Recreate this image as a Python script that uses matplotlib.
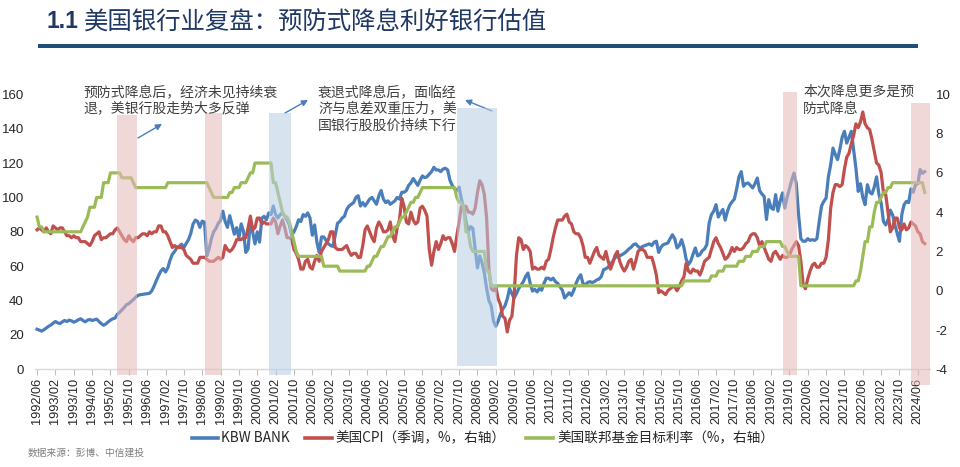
import matplotlib
matplotlib.use('Agg')
import matplotlib.pyplot as plt
import matplotlib.transforms as mtransforms
from matplotlib.patches import Rectangle
from matplotlib.lines import Line2D
import numpy as np
import pandas as pd

plt.rcParams['font.family'] = ['Liberation Sans', 'Noto Sans CJK SC', 'DejaVu Sans']
plt.rcParams['axes.unicode_minus'] = False

# ---------------- data (monthly, 1992/06 - 2024/09) ----------------
start_month = '1992-06'

kbw_bank = (
    [23.3, 22.8, 22.2, 23.0, 24.0, 25.0, 25.8]
    + [26.8, 27.8, 27.0, 26.6, 27.6, 28.4, 27.8, 28.6, 28.2, 27.4, 28.0, 28.8]
    + [29.4, 28.4, 27.6, 28.6, 29.0, 28.4, 28.8, 29.2, 27.8, 26.6, 25.6, 26.4]
    + [27.6, 28.6, 29.4, 29.8, 32.0, 33.2, 34.6, 36.0, 37.6, 38.2, 39.4, 40.6]
    + [42.0, 43.0, 43.4, 43.6, 43.8, 44.0, 44.2, 45.6, 48.4, 51.6, 54.6, 57.2]
    + [58.6, 56.6, 59.0, 63.6, 67.0, 68.6, 70.8, 71.6, 72.8, 70.8, 73.2, 75.4]
    + [79.0, 84.5, 86.8, 86.0, 82.6, 86.2, 85.6, 66.0, 70.0, 76.0, 80.0, 82.0]
    + [85.0, 86.6, 92.0, 86.0, 82.6, 89.4, 84.0, 78.6, 82.4, 76.4, 84.6, 80.2]
    + [68.0, 70.0, 86.0, 80.0, 73.0, 80.0, 74.0, 88.0, 89.0, 87.0, 91.0, 90.0]
    + [95.0, 90.0, 88.0, 90.0, 91.0, 89.0, 87.0, 84.0, 78.0, 80.0, 83.0, 87.0]
    + [86.0, 90.0, 89.0, 91.0, 88.0, 78.0, 84.0, 74.0, 68.0, 77.0, 77.0, 75.0]
    + [73.0, 72.0, 71.5, 78.0, 85.0, 86.0, 88.0, 89.0, 93.0, 95.0, 96.0, 97.0]
    + [100.0, 101.0, 95.0, 97.0, 95.0, 97.0, 99.0, 100.0, 98.0, 96.0, 101.0, 104.0]
    + [99.0, 97.0, 98.0, 96.0, 97.0, 98.0, 100.0, 99.0, 103.0, 103.0, 104.0, 107.0]
    + [108.5, 111.0, 109.0, 107.0, 110.0, 112.5, 111.5, 112.0, 113.6, 115.0, 117.5, 116.0]
    + [116.0, 115.0, 116.5, 117.0, 116.0, 110.0, 107.0, 105.0, 104.0, 106.0, 99.0, 94.0]
    + [86.0, 80.0, 83.0, 82.0, 70.0, 59.0, 66.0, 62.0, 56.0, 47.0, 40.0, 37.0]
    + [28.0, 25.0, 28.0, 32.0, 35.0, 37.0, 41.0, 47.0, 44.0, 41.5, 44.0, 47.0]
    + [49.0, 51.0, 54.0, 56.0, 50.0, 45.5, 46.5, 45.0, 47.0, 46.0, 50.0, 53.0]
    + [53.0, 52.0, 53.0, 51.0, 50.0, 48.0, 46.0, 41.5, 43.0, 44.5, 43.0, 46.0]
    + [50.0, 53.0, 55.0, 50.0, 49.0, 50.5, 51.0, 50.5, 51.0, 52.0, 52.5, 54.0]
    + [58.0, 58.5, 59.5, 61.0, 63.0, 65.0, 65.7, 66.0, 66.7, 67.5, 68.6, 70.0]
    + [71.0, 72.5, 73.0, 71.5, 70.5, 71.5, 72.0, 72.5, 73.0, 72.0, 74.0, 74.5]
    + [68.0, 71.0, 72.5, 73.0, 73.5, 76.0, 78.3, 76.0, 70.6, 72.0, 75.4, 71.0]
    + [64.0, 60.9, 63.0, 67.0, 70.6, 66.0, 66.7, 69.0, 70.0, 72.5, 85.0, 90.0]
    + [92.0, 95.8, 88.6, 91.0, 93.0, 86.8, 92.0, 95.5, 97.5, 99.0, 105.0, 112.0]
    + [115.0, 106.5, 108.0, 108.4, 107.0, 105.5, 108.0, 111.3, 104.0, 102.0, 100.6, 87.2]
    + [98.7, 94.0, 93.0, 101.6, 92.0, 98.0, 102.6, 93.8, 100.0, 105.0, 110.0, 114.2]
    + [108.0, 90.0, 76.0, 74.5, 74.5, 76.0, 75.0, 75.4, 75.0, 76.0, 86.0, 95.0]
    + [97.7, 99.6, 112.0, 119.0, 128.7, 125.0, 122.0, 128.0, 135.0, 138.5, 131.6, 135.0]
    + [138.5, 128.0, 117.0, 103.5, 108.0, 100.0, 95.8, 107.4, 103.0, 102.0, 106.0, 112.0]
    + [102.0, 96.8, 86.0, 84.0, 87.0, 92.6, 89.8, 84.0, 79.0, 74.5, 90.0, 95.8]
    + [97.7, 97.0, 105.0, 103.0, 107.4, 108.0, 116.2, 114.0, 115.0]
)

us_cpi = (
    [3.1, 3.2, 3.1, 3.0, 3.2, 3.0, 2.9]
    + [3.3, 3.2, 3.1, 3.2, 3.2, 3.0, 2.8, 2.8, 2.7, 2.8, 2.7, 2.7]
    + [2.5, 2.5, 2.5, 2.4, 2.3, 2.5, 2.8, 2.9, 3.0, 2.6, 2.7, 2.7]
    + [2.8, 2.9, 2.9, 3.1, 3.2, 3.0, 2.8, 2.6, 2.5, 2.8, 2.6, 2.5]
    + [2.7, 2.7, 2.8, 2.9, 2.9, 2.8, 3.0, 2.9, 3.0, 3.0, 3.3, 3.3]
    + [3.0, 3.0, 2.8, 2.5, 2.2, 2.3, 2.2, 2.2, 2.2, 2.1, 1.8, 1.7]
    + [1.6, 1.4, 1.4, 1.4, 1.7, 1.7, 1.7, 1.6, 1.5, 1.5, 1.5, 1.6]
    + [1.7, 1.6, 1.7, 2.3, 2.1, 2.0, 2.1, 2.3, 2.6, 2.6, 2.6, 2.7]
    + [2.7, 3.2, 3.8, 3.1, 3.2, 3.7, 3.7, 3.4, 3.5, 3.4, 3.4, 3.4]
    + [3.7, 3.5, 2.9, 3.3, 3.6, 3.2, 2.7, 2.7, 2.6, 2.1, 1.9, 1.6]
    + [1.1, 1.1, 1.5, 1.6, 1.2, 1.1, 1.5, 1.8, 1.5, 2.0, 2.2, 2.4]
    + [2.6, 3.0, 3.0, 2.2, 2.1, 2.1, 2.1, 2.2, 2.3, 2.0, 1.8, 1.9]
    + [1.9, 1.7, 1.7, 2.3, 3.1, 3.3, 3.0, 2.7, 2.5, 3.2, 3.5, 3.3]
    + [3.0, 3.0, 3.1, 3.5, 2.8, 2.5, 3.2, 3.6, 4.7, 4.3, 3.5, 3.4]
    + [4.0, 3.6, 3.4, 3.5, 4.2, 4.3, 4.1, 3.8, 2.1, 1.3, 2.0, 2.5]
    + [2.1, 2.4, 2.8, 2.6, 2.7, 2.7, 2.4, 2.0, 2.8, 3.5, 4.3, 4.1]
    + [4.3, 4.0, 4.0, 3.9, 4.2, 5.0, 5.6, 5.4, 4.9, 3.7, 1.1, 0.1]
    + [0.0, 0.2, -0.4, -0.7, -1.3, -1.4, -2.1, -1.5, -1.3, -0.2, 1.8, 2.7]
    + [2.6, 2.1, 2.3, 2.2, 2.0, 1.1, 1.2, 1.1, 1.1, 1.2, 1.1, 1.5]
    + [1.6, 2.1, 2.7, 3.2, 3.6, 3.6, 3.6, 3.8, 3.9, 3.5, 3.4, 3.0]
    + [2.9, 2.9, 2.7, 2.3, 1.7, 1.7, 1.4, 1.7, 2.0, 2.2, 1.8, 1.7]
    + [1.6, 2.0, 1.5, 1.1, 1.4, 1.8, 2.0, 1.5, 1.2, 1.0, 1.2, 1.5]
    + [1.6, 1.1, 1.5, 2.0, 2.1, 2.1, 2.0, 1.7, 1.7, 1.7, 1.3, 0.8]
    + [-0.1, 0.0, -0.1, -0.2, 0.0, 0.1, 0.2, 0.2, 0.0, 0.2, 0.5, 0.7]
    + [1.4, 1.0, 0.9, 1.1, 1.0, 1.0, 0.8, 1.1, 1.5, 1.6, 1.7, 2.1]
    + [2.5, 2.7, 2.4, 2.2, 1.9, 1.6, 1.7, 1.9, 2.2, 2.0, 2.2, 2.1]
    + [2.1, 2.2, 2.4, 2.5, 2.8, 2.9, 2.9, 2.7, 2.3, 2.5, 2.2, 1.9]
    + [1.6, 1.5, 1.9, 2.0, 1.8, 1.6, 1.8, 1.7, 1.7, 1.8, 2.1, 2.3]
    + [2.5, 2.3, 1.5, 0.3, 0.1, 0.6, 1.0, 1.3, 1.4, 1.2, 1.2, 1.4]
    + [1.4, 1.7, 2.6, 4.2, 5.0, 5.4, 5.4, 5.3, 5.4, 6.2, 6.8, 7.0]
    + [7.5, 7.9, 8.5, 8.3, 8.6, 9.1, 8.5, 8.3, 8.2, 7.7, 7.1, 6.5]
    + [6.4, 6.0, 5.0, 4.9, 4.0, 3.0, 3.2, 3.7, 3.7, 3.2, 3.1, 3.4]
    + [3.1, 3.2, 3.5, 3.4, 3.3, 3.0, 2.9, 2.5, 2.4]
)

fed_funds_target = (
    [3.75, 3.25, 3.25, 3.0, 3.0, 3.0, 3.0]
    + [3.0] * 12
    + [3.0, 3.25, 3.5, 3.75, 4.25, 4.25, 4.25, 4.75, 4.75, 4.75, 5.5, 5.5]
    + [5.5, 6.0, 6.0, 6.0, 6.0, 6.0, 5.75, 5.75, 5.75, 5.75, 5.75, 5.5]
    + [5.25] * 12
    + [5.25, 5.25] + [5.5] * 10
    + [5.5] * 8 + [5.25, 5.0, 4.75, 4.75]
    + [4.75] * 5 + [5.0, 5.0, 5.25, 5.25, 5.25, 5.5, 5.5]
    + [5.5, 5.75, 6.0, 6.0, 6.5, 6.5, 6.5, 6.5, 6.5, 6.5, 6.5, 6.5]
    + [5.5, 5.5, 5.0, 4.5, 4.0, 3.75, 3.75, 3.5, 3.0, 2.5, 2.0, 1.75]
    + [1.75] * 10 + [1.25, 1.25]
    + [1.25] * 5 + [1.0] * 7
    + [1.0] * 5 + [1.25, 1.25, 1.5, 1.75, 1.75, 2.0, 2.25]
    + [2.25, 2.5, 2.75, 2.75, 3.0, 3.25, 3.25, 3.5, 3.75, 3.75, 4.0, 4.25]
    + [4.5, 4.5, 4.75, 4.75, 5.0, 5.25] + [5.25] * 6
    + [5.25] * 8 + [4.75, 4.5, 4.5, 4.25]
    + [3.0, 3.0, 2.25, 2.0, 2.0, 2.0, 2.0, 2.0, 2.0, 1.0, 1.0, 0.25]
    + [0.25] * 12 * 6
    + [0.25] * 11 + [0.5]
    + [0.5] * 11 + [0.75]
    + [0.75, 0.75, 1.0, 1.0, 1.0, 1.25, 1.25, 1.25, 1.25, 1.25, 1.25, 1.5]
    + [1.5, 1.5, 1.75, 1.75, 1.75, 2.0, 2.0, 2.0, 2.25, 2.25, 2.25, 2.5]
    + [2.5] * 6 + [2.25, 2.25, 2.0, 1.75, 1.75, 1.75]
    + [1.75, 1.75] + [0.25] * 10
    + [0.25] * 12
    + [0.25, 0.25, 0.5, 0.5, 1.0, 1.75, 2.5, 2.5, 3.25, 3.25, 4.0, 4.5]
    + [4.5, 4.75, 5.0, 5.0, 5.25, 5.25, 5.5, 5.5, 5.5, 5.5, 5.5, 5.5]
    + [5.5] * 8 + [5.0]
)

# rate-cut episodes (start month, end month, kind)
cut_periods = [
    ('1995-05', '1996-01', 'preventive'),
    ('1998-07', '1999-02', 'preventive'),
    ('2000-11', '2001-08', 'recession'),
    ('2007-09', '2009-02', 'recession'),
    ('2019-07', '2020-01', 'preventive'),
    ('2024-03', '2024-11', 'preventive'),
]

series_labels = ['KBW BANK', '美国CPI（季调，%，右轴）', '美国联邦基金目标利率（%，右轴）']
title_num = '1.1'
title_text = '美国银行业复盘：预防式降息利好银行估值'
notes = [
    '预防式降息后，经济未见持续衰\n退，美银行股走势大多反弹',
    '衰退式降息后，面临经\n济与息差双重压力，美\n国银行股股价持续下行',
    '本次降息更多是预\n防式降息',
]
source_text = '数据来源：彭博、中信建投'
left_ticks = [0, 20, 40, 60, 80, 100, 120, 140, 160]
right_ticks = [-4, -2, 0, 2, 4, 6, 8, 10]

# ---------------- build ----------------
months = pd.period_range(start_month, periods=len(kbw_bank), freq='M')
x = np.arange(len(months))
tick_pos = x[::8]
tick_labels = [months[i].strftime('%Y/%m') for i in tick_pos]

def month_index(s):
    p = pd.Period(s, freq='M')
    return (p - months[0]).n

W, H = 960, 467
fig = plt.figure(figsize=(W / 100, H / 100), dpi=100)

ax_l, ax_r, ax_t, ax_b = 35, 930, 94.3, 369.3
ax = fig.add_axes([ax_l / W, 1 - ax_b / H, (ax_r - ax_l) / W, (ax_b - ax_t) / H])
ax2 = ax.twinx()

BLUE, RED, GREEN = '#4A7EBB', '#C0504D', '#9BBB59'
lw = 2.3
ax.plot(x, kbw_bank, color=BLUE, lw=lw, solid_joinstyle='round', zorder=3)
ax2.plot(x, us_cpi, color=RED, lw=lw, solid_joinstyle='round', zorder=3)
ax2.plot(x, fed_funds_target, color=GREEN, lw=lw, solid_joinstyle='round', zorder=4)

ax.set_xlim(-0.9, 389.3)
ax.set_ylim(0, 160)
ax2.set_ylim(-4, 10)
ax.set_yticks(left_ticks)
ax2.set_yticks(right_ticks)
ax.set_xticks(tick_pos)
ax.set_xticklabels(tick_labels, rotation=90)

for a in (ax, ax2):
    for s in a.spines.values():
        s.set_visible(False)
ax.spines['bottom'].set_visible(True)
ax.spines['bottom'].set_color('#D9D9D9')
ax.spines['bottom'].set_linewidth(1.0)

tick_col = '#262626'
ax.tick_params(axis='x', direction='out', length=4, width=0.8, color='#BFBFBF',
               labelsize=9.2, pad=2, labelcolor=tick_col)
ax.tick_params(axis='y', length=0, labelsize=9.5, pad=8, labelcolor=tick_col)
ax2.tick_params(axis='y', length=0, labelsize=9.5, pad=4, labelcolor=tick_col)

# shaded rate-cut episodes (drawn over the lines, semi-transparent)
band_ext = [(0.925, -0.019), (0.932, -0.019), (0.932, -0.019),
            (0.950, 0.011), (1.008, -0.019), (0.968, -0.057)]
trans = mtransforms.blended_transform_factory(ax2.transData, ax2.transAxes)
for (s, e, kind), (top, bot) in zip(cut_periods, band_ext):
    x0 = month_index(s)
    x1 = month_index(e) + 0.5
    col = '#E6B9B8' if kind == 'preventive' else '#B9CDE5'
    ax2.add_patch(Rectangle((x0, bot), x1 - x0, top - bot, transform=trans,
                            facecolor=col, edgecolor='none', alpha=0.55,
                            zorder=6, clip_on=False))

# notes
note_kw = dict(fontsize=10, color='#3F3F3F', va='top', ha='left',
               linespacing=1.25, family=['Noto Sans CJK SC'])
fig.text(83 / W, 1 - 85 / H, notes[0], **note_kw)
fig.text(318 / W, 1 - 85 / H, notes[1], **note_kw)
fig.text(803 / W, 1 - 85 / H, notes[2], **note_kw)

arrow_kw = dict(arrowstyle='-|>', color=BLUE, lw=1.0, mutation_scale=9,
                shrinkA=0, shrinkB=0)
for (xa, ya), (xb, yb) in [((138, 138), (162, 124)),
                           ((285, 113), (308, 100)),
                           ((492, 111), (465, 100))]:
    ax.annotate('', xy=(xb, H - yb), xytext=(xa, H - ya),
                xycoords='figure pixels', textcoords='figure pixels',
                arrowprops=arrow_kw, annotation_clip=False)

# title and rule
TITLE_COL = '#1F3864'
fig.text(46 / W, 1 - 22 / H, title_num, fontsize=16.5, fontweight='bold',
         color=TITLE_COL, va='center', ha='left', family=['Liberation Sans'])
fig.text(84 / W, 1 - 22 / H, title_text, fontsize=17.6, color=TITLE_COL,
         va='center', ha='left', family=['Noto Sans CJK SC'])
fig.add_artist(Rectangle((38 / W, 1 - 48 / H), 880 / W, 4 / H,
                         transform=fig.transFigure, facecolor='#1F4E79',
                         edgecolor='none'))

# legend (manual)
ly = 1 - 438 / H
for col, (h0, h1, tx), lab in zip([BLUE, RED, GREEN],
                                  [(192, 218, 221), (305, 332, 335), (526, 553, 557)],
                                  series_labels):
    fig.add_artist(Line2D([h0 / W, h1 / W], [ly, ly], transform=fig.transFigure,
                          color=col, lw=2.6))
    fig.text(tx / W, ly, lab, fontsize=9.8, color='#262626', va='center', ha='left',
             family=['Noto Sans CJK SC'])

fig.text(28 / W, 1 - 453 / H, source_text, fontsize=7, color='#7F7F7F',
         va='center', ha='left', family=['Noto Sans CJK SC'])

fig.savefig('out.png', dpi=100)
